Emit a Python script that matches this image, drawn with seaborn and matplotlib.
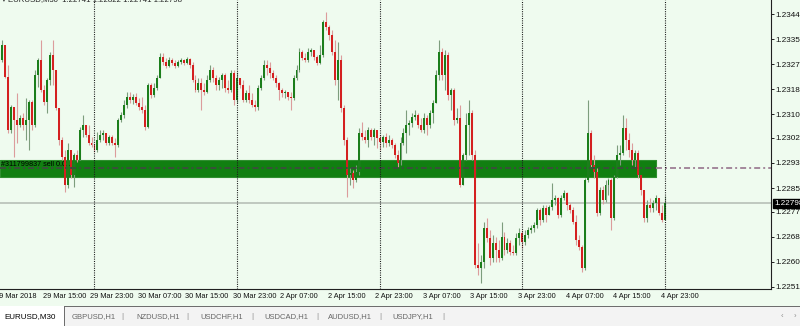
import matplotlib
matplotlib.use("Agg")
import matplotlib.pyplot as plt
import matplotlib.transforms as mtransforms
from matplotlib.patches import Rectangle
import seaborn as sns
import numpy as np
import pandas as pd

# ---------------- data (EURUSD, M30) ----------------
first_open = 1.23308
closes = [
    1.23284, 1.23335, 1.23227, 1.23047, 1.23125, 1.23081, 1.23064, 1.23088, 1.23064, 1.23081,
    1.23142, 1.23064, 1.23233, 1.23284, 1.23182, 1.23142, 1.23216, 1.23301, 1.23250, 1.23121,
    1.23013, 1.22955, 1.22860, 1.22979, 1.22894, 1.22962, 1.22945, 1.23047, 1.23064, 1.23030,
    1.23003, 1.22996, 1.22979, 1.23013, 1.23030, 1.23037, 1.23003, 1.23023, 1.23003, 1.22996,
    1.23081, 1.23098, 1.23132, 1.23159, 1.23149, 1.23159, 1.23138, 1.23125, 1.23115, 1.23057,
    1.23199, 1.23166, 1.23189, 1.23223, 1.23294, 1.23277, 1.23264, 1.23284, 1.23274, 1.23264,
    1.23277, 1.23284, 1.23274, 1.23288, 1.23267, 1.23216, 1.23182, 1.23206, 1.23182, 1.23176,
    1.23216, 1.23250, 1.23223, 1.23199, 1.23216, 1.23233, 1.23189, 1.23182, 1.23240, 1.23149,
    1.23223, 1.23199, 1.23149, 1.23172, 1.23149, 1.23132, 1.23125, 1.23189, 1.23223, 1.23267,
    1.23257, 1.23240, 1.23223, 1.23206, 1.23182, 1.23172, 1.23176, 1.23159, 1.23155, 1.23223,
    1.23250, 1.23311, 1.23291, 1.23284, 1.23311, 1.23318, 1.23294, 1.23274, 1.23301, 1.23413,
    1.23396, 1.23369, 1.23311, 1.23216, 1.23284, 1.23121, 1.23013, 1.22894, 1.22901, 1.22877,
    1.22904, 1.23037, 1.23023, 1.23013, 1.23047, 1.23023, 1.23047, 1.23020, 1.23006, 1.23023,
    1.23003, 1.23013, 1.22996, 1.22962, 1.22935, 1.23003, 1.23037, 1.23064, 1.23071, 1.23091,
    1.23098, 1.23064, 1.23047, 1.23088, 1.23064, 1.23104, 1.23138, 1.23233, 1.23311, 1.23233,
    1.23301, 1.23166, 1.23182, 1.23081, 1.23088, 1.22860, 1.22962, 1.23064, 1.23104, 1.22962,
    1.22589, 1.22579, 1.22599, 1.22715, 1.22681, 1.22613, 1.22664, 1.22640, 1.22613, 1.22684,
    1.22640, 1.22664, 1.22633, 1.22630, 1.22681, 1.22698, 1.22667, 1.22691, 1.22708, 1.22715,
    1.22725, 1.22776, 1.22742, 1.22782, 1.22759, 1.22786, 1.22810, 1.22816, 1.22759, 1.22816,
    1.22833, 1.22793, 1.22776, 1.22735, 1.22674, 1.22650, 1.22579, 1.22877, 1.23037, 1.22928,
    1.22904, 1.22765, 1.22843, 1.22810, 1.22860, 1.22877, 1.22749, 1.22888, 1.22962, 1.22969,
    1.23054, 1.23013, 1.22979, 1.22945, 1.22969, 1.22894, 1.22843, 1.22749, 1.22793, 1.22782,
    1.22799, 1.22816, 1.22765, 1.22741, 1.22798]
highs = [
    1.23318, 1.23352, 1.23335, 1.23267, 1.23132, 1.23125, 1.23172, 1.23098, 1.23104, 1.23155,
    1.23149, 1.23149, 1.23250, 1.23291, 1.23352, 1.23199, 1.23223, 1.23311, 1.23352, 1.23250,
    1.23121, 1.23023, 1.22979, 1.23003, 1.22979, 1.22969, 1.22979, 1.23057, 1.23098, 1.23064,
    1.23064, 1.23023, 1.23003, 1.23040, 1.23047, 1.23047, 1.23037, 1.23030, 1.23030, 1.23020,
    1.23088, 1.23108, 1.23149, 1.23176, 1.23176, 1.23169, 1.23172, 1.23155, 1.23159, 1.23132,
    1.23206, 1.23206, 1.23206, 1.23233, 1.23308, 1.23308, 1.23291, 1.23294, 1.23291, 1.23284,
    1.23284, 1.23291, 1.23288, 1.23294, 1.23291, 1.23277, 1.23233, 1.23223, 1.23223, 1.23206,
    1.23233, 1.23267, 1.23260, 1.23233, 1.23227, 1.23240, 1.23240, 1.23216, 1.23250, 1.23250,
    1.23243, 1.23223, 1.23216, 1.23182, 1.23199, 1.23172, 1.23149, 1.23199, 1.23233, 1.23284,
    1.23284, 1.23277, 1.23250, 1.23233, 1.23210, 1.23189, 1.23182, 1.23176, 1.23176, 1.23233,
    1.23267, 1.23325, 1.23318, 1.23308, 1.23325, 1.23325, 1.23318, 1.23301, 1.23335, 1.23420,
    1.23447, 1.23403, 1.23386, 1.23352, 1.23345, 1.23301, 1.23132, 1.23023, 1.22918, 1.22911,
    1.22928, 1.23054, 1.23074, 1.23047, 1.23057, 1.23054, 1.23054, 1.23047, 1.23030, 1.23030,
    1.23037, 1.23030, 1.23020, 1.23003, 1.22979, 1.23023, 1.23054, 1.23115, 1.23081, 1.23104,
    1.23115, 1.23104, 1.23088, 1.23104, 1.23098, 1.23115, 1.23149, 1.23250, 1.23352, 1.23325,
    1.23318, 1.23311, 1.23189, 1.23189, 1.23121, 1.23132, 1.22969, 1.23104, 1.23149, 1.23115,
    1.22979, 1.22664, 1.22623, 1.22735, 1.22749, 1.22708, 1.22691, 1.22684, 1.22674, 1.22735,
    1.22701, 1.22681, 1.22674, 1.22657, 1.22698, 1.22715, 1.22708, 1.22708, 1.22718, 1.22725,
    1.22735, 1.22782, 1.22782, 1.22793, 1.22793, 1.22793, 1.22867, 1.22827, 1.22820, 1.22827,
    1.22843, 1.22837, 1.22799, 1.22786, 1.22759, 1.22691, 1.22657, 1.22884, 1.23149, 1.23047,
    1.22962, 1.22918, 1.22854, 1.22857, 1.22877, 1.22884, 1.22884, 1.22894, 1.22996, 1.22996,
    1.23098, 1.23088, 1.23037, 1.23003, 1.22979, 1.22979, 1.22894, 1.22843, 1.22810, 1.22816,
    1.22810, 1.22827, 1.22816, 1.22793, 1.22822]
lows = [
    1.23277, 1.23277, 1.23223, 1.23037, 1.23037, 1.22955, 1.23003, 1.23057, 1.23047, 1.23013,
    1.22979, 1.23047, 1.23057, 1.23193, 1.23176, 1.23132, 1.23104, 1.23199, 1.23199, 1.23115,
    1.22996, 1.22945, 1.22837, 1.22850, 1.22884, 1.22854, 1.22938, 1.22945, 1.23023, 1.23023,
    1.22996, 1.22989, 1.22972, 1.22972, 1.23006, 1.23013, 1.22996, 1.22996, 1.22996, 1.22955,
    1.22989, 1.23074, 1.23088, 1.23121, 1.23138, 1.23135, 1.23132, 1.23115, 1.23104, 1.23047,
    1.23054, 1.23155, 1.23159, 1.23182, 1.23223, 1.23267, 1.23257, 1.23260, 1.23267, 1.23257,
    1.23260, 1.23271, 1.23267, 1.23271, 1.23257, 1.23210, 1.23176, 1.23176, 1.23115, 1.23166,
    1.23172, 1.23210, 1.23210, 1.23182, 1.23182, 1.23189, 1.23176, 1.23172, 1.23176, 1.23132,
    1.23138, 1.23189, 1.23142, 1.23142, 1.23138, 1.23125, 1.23111, 1.23115, 1.23182, 1.23216,
    1.23233, 1.23223, 1.23216, 1.23193, 1.23149, 1.23159, 1.23155, 1.23149, 1.23115, 1.23149,
    1.23216, 1.23243, 1.23284, 1.23277, 1.23277, 1.23298, 1.23284, 1.23267, 1.23271, 1.23294,
    1.23386, 1.23352, 1.23301, 1.23199, 1.23149, 1.23108, 1.22996, 1.22820, 1.22860, 1.22850,
    1.22871, 1.22894, 1.23013, 1.23003, 1.22989, 1.23013, 1.22996, 1.22986, 1.22979, 1.22989,
    1.22989, 1.22993, 1.22986, 1.22952, 1.22921, 1.22928, 1.22996, 1.22969, 1.23030, 1.23057,
    1.23081, 1.23054, 1.23040, 1.23037, 1.23030, 1.23054, 1.23071, 1.23138, 1.23216, 1.23216,
    1.23182, 1.23149, 1.23115, 1.23064, 1.23071, 1.22854, 1.22860, 1.22945, 1.22962, 1.22945,
    1.22579, 1.22555, 1.22528, 1.22579, 1.22667, 1.22589, 1.22599, 1.22599, 1.22599, 1.22606,
    1.22623, 1.22630, 1.22623, 1.22623, 1.22623, 1.22657, 1.22647, 1.22657, 1.22681, 1.22698,
    1.22701, 1.22715, 1.22725, 1.22735, 1.22735, 1.22759, 1.22776, 1.22793, 1.22749, 1.22752,
    1.22810, 1.22776, 1.22765, 1.22728, 1.22657, 1.22640, 1.22565, 1.22572, 1.22871, 1.22918,
    1.22884, 1.22755, 1.22759, 1.22796, 1.22803, 1.22827, 1.22708, 1.22742, 1.22884, 1.22928,
    1.22962, 1.22979, 1.22955, 1.22928, 1.22918, 1.22884, 1.22827, 1.22735, 1.22735, 1.22769,
    1.22769, 1.22776, 1.22759, 1.22735, 1.22741]

price_ticks = [1.23440, 1.23355, 1.23270, 1.23185, 1.23100, 1.23020,
               1.22935, 1.22850, 1.22770, 1.22685, 1.22600, 1.22515]
time_labels = ["29 Mar 2018", "29 Mar 15:00", "29 Mar 23:00", "30 Mar 07:00",
               "30 Mar 15:00", "30 Mar 23:00", "2 Apr 07:00", "2 Apr 15:00",
               "2 Apr 23:00", "3 Apr 07:00", "3 Apr 15:00", "3 Apr 23:00",
               "4 Apr 07:00", "4 Apr 15:00", "4 Apr 23:00"]
time_label_bars = [-2, 14, 30, 46, 62, 78, 94, 110, 126, 142, 158, 174, 190, 206, 222]
day_start_bars = [32, 80, 128, 176, 224]

order_low, order_high = 1.22887, 1.22945
order_price = 1.22918
order_end_bar = 221.0
order_text = "#311799837 sell 0.01"
bid_price = 1.22798
header_text = "\u25be EURUSD,M30  1.22741 1.22822 1.22741 1.22798"
tab_names = ["EURUSD,M30", "GBPUSD,H1", "NZDUSD,H1", "USDCHF,H1",
             "USDCAD,H1", "AUDUSD,H1", "USDJPY,H1"]

# ---------------- style ----------------
sns.set_theme(style="white")
plt.rcParams["font.family"] = ["Liberation Sans", "DejaVu Sans"]
plt.rcParams["lines.scale_dashes"] = False

BG = "#effbef"
BULL, BEAR = "#1b7e1b", "#d42020"
BULL_W, BEAR_W = "#7d9d7d", "#dc9c9c"

W, H = 800, 326
fig = plt.figure(figsize=(W / 100, H / 100), dpi=100, facecolor=BG)
ax = fig.add_axes([0, 1 - 289 / H, 771 / W, 289 / H])
ax.set_facecolor(BG)

df = pd.DataFrame({"close": closes, "high": highs, "low": lows})
df["open"] = [first_open] + closes[:-1]
df["bar"] = np.arange(len(df))
df["up"] = df["close"] >= df["open"]

ax.set_xlim(0.2, 259.7)
ax.set_ylim(1.225078, 1.234875)

# order band (background object)
ax.fill_between([0.2, order_end_bar], order_low, order_high, color="#117f11",
                linewidth=0.8, edgecolor="#2f8f2f", zorder=1)
ax.text(0.4, order_price + 0.00013, order_text, fontsize=5.2, color="black",
        va="center", ha="left", zorder=2)

# wicks
ax.vlines(df["bar"], df["low"], df["high"],
          colors=np.where(df["up"], BULL_W, BEAR_W), linewidth=0.8, zorder=3)
# bodies
body_h = np.maximum((df["close"] - df["open"]).abs(), 0.00003)
ax.bar(df["bar"], body_h, bottom=np.minimum(df["open"], df["close"]), width=0.66,
       color=np.where(df["up"], BULL, BEAR), linewidth=0, zorder=4)

# order price line (dash-dot)
dd = (0, (4.3, 2.2, 1.4, 2.2))
sns.lineplot(x=[0.2, order_end_bar], y=[order_price, order_price], ax=ax,
             color="#3b4f3b", linewidth=1.4, linestyle=dd, zorder=5)
sns.lineplot(x=[order_end_bar, 259.7], y=[order_price, order_price], ax=ax,
             color="#a3879b", linewidth=1.4, linestyle=dd, zorder=5)

# bid line
ax.axhline(bid_price, color="#b7bfb7", linewidth=1.2, zorder=2)

# day separators
for b in day_start_bars:
    ax.axvline(b, color="#1a1a1a", linewidth=0.8, linestyle=(0, (0.75, 0.9)), zorder=6)

# axes / spines
for s in ["left", "top"]:
    ax.spines[s].set_visible(False)
for s in ["right", "bottom"]:
    ax.spines[s].set_color("#202020")
    ax.spines[s].set_linewidth(0.8)

ax.yaxis.tick_right()
ax.set_yticks(price_ticks)
ax.set_yticklabels([f"{p:.5f}" for p in price_ticks])
ax.tick_params(axis="y", direction="out", length=2.3, width=0.7, colors="#202020",
               labelsize=5.9, pad=0.8, labelcolor="#111111")

vis_bars = [b for b in time_label_bars if b >= 0.2]
ax.set_xticks(vis_bars)
ax.set_xticklabels([])
ax.tick_params(axis="x", direction="out", length=2.3, width=0.7, colors="#202020")

trans = mtransforms.offset_copy(ax.get_xaxis_transform(), fig=fig,
                                x=1.6 * 0.72, y=-8 * 0.72, units="points")
for b, lab in zip(time_label_bars, time_labels):
    ax.text(b, 0, lab, transform=trans, fontsize=5.3, color="#111111",
            ha="left", va="center", clip_on=False)

# current price label
bt = mtransforms.blended_transform_factory(ax.transAxes, ax.transData)
ax.text(1 + 3 / 771, bid_price, f"{bid_price:.5f}", transform=bt, fontsize=5.9,
        color="white", va="center", ha="left", clip_on=False,
        bbox=dict(boxstyle="square,pad=0.15", fc="black", ec="black"))

# header
fig.text(2 / W, 1 + 0.5 / H, header_text, fontsize=5.6, color="#222222",
         ha="left", va="center")

# ---------------- tab bar ----------------
def px_rect(x0, y0, x1, y1, **kw):
    fig.patches.append(Rectangle((x0 / W, 1 - y1 / H), (x1 - x0) / W, (y1 - y0) / H,
                                 transform=fig.transFigure, figure=fig, **kw))

px_rect(0, 306, W, H, facecolor="#f3f3f3", edgecolor="none")
px_rect(65, 305.5, W, 306.6, facecolor="#6e6e6e", edgecolor="none")
px_rect(0, 306, 65, H, facecolor="white", edgecolor="none")
px_rect(64.4, 306, 65.4, H, facecolor="#6e6e6e", edgecolor="none")

fig.text(4 / W, 1 - 316.5 / H, tab_names[0], fontsize=5.8, color="black",
         ha="left", va="center")
tab_x = [72, 136, 200, 264, 328, 392]
sep_x = [122, 187, 252, 317, 380, 443]
narrow = ["Liberation Sans Narrow", "Liberation Sans", "DejaVu Sans"]
for x, name in zip(tab_x, tab_names[1:]):
    fig.text(x / W, 1 - 316.5 / H, name, fontsize=5.5, color="#666666",
             ha="left", va="center", family=narrow)
for x in sep_x:
    fig.text(x / W, 1 - 316.5 / H, "|", fontsize=6, color="#8a8a8a",
             ha="center", va="center")
fig.text(782 / W, 1 - 316.5 / H, "\u2039", fontsize=5.5, color="#8a8a8a", ha="center", va="center")
fig.text(795 / W, 1 - 316.5 / H, "\u203a", fontsize=5.5, color="#8a8a8a", ha="center", va="center")

fig.savefig("out.png", dpi=100, facecolor=BG)
